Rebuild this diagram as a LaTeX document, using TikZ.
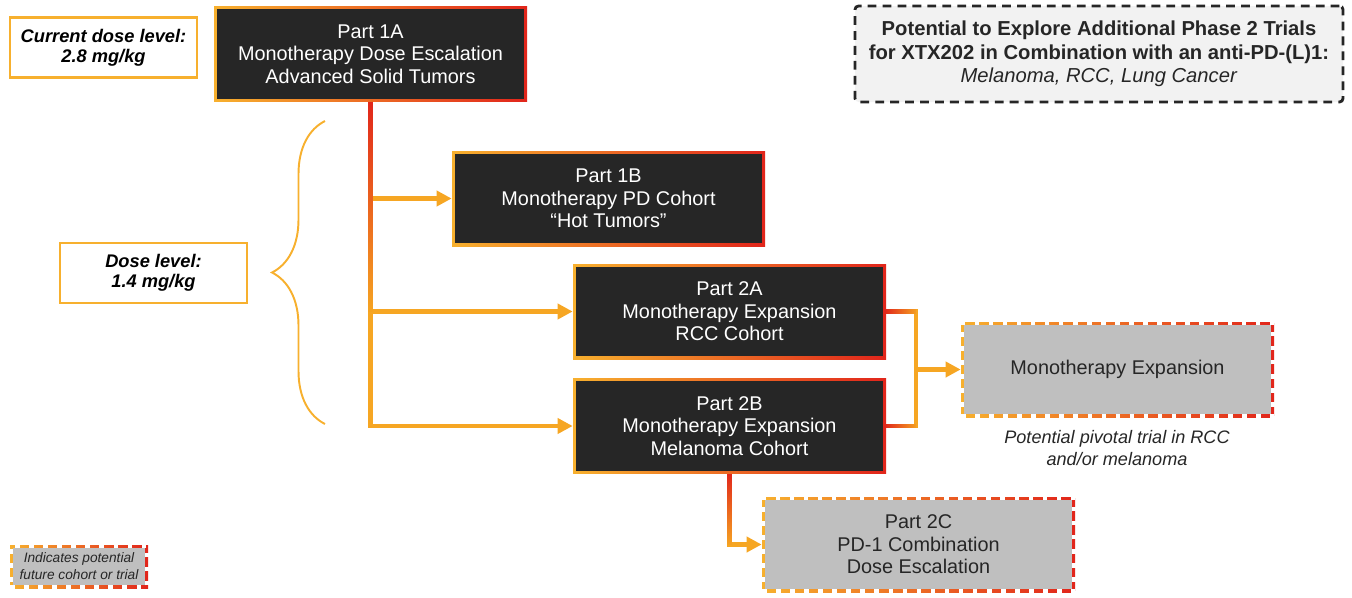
\documentclass[tikz,border=0pt]{standalone}
\usepackage{fontspec}
\setmainfont{Liberation Sans}
\usetikzlibrary{arrows.meta,fadings,decorations.pathreplacing}

\definecolor{boxdark}{HTML}{262626}
\definecolor{hotorange}{HTML}{F7B02E}
\definecolor{hotred}{HTML}{E1251B}
\definecolor{linkorange}{HTML}{F6A623}
\definecolor{futuregray}{HTML}{BFBFBF}
\definecolor{notegray}{HTML}{F2F2F2}

\tikzfading[name=redtop, top color=transparent!0, bottom color=transparent!100]
\tikzfading[name=redleft, left color=transparent!0, right color=transparent!100]

\newcommand{\boxfont}{\fontsize{11.3}{12.8}\selectfont}

\tikzset{
  rim/.style={draw=none, left color=hotorange, right color=hotred,
    path picture={\fill[#1] ([shift={(1.7pt,1.7pt)}]path picture bounding box.south west)
      rectangle ([shift={(-1.7pt,-1.7pt)}]path picture bounding box.north east);}},
  part/.style={rim=boxdark, text=white, align=center, font=\boxfont,
    minimum width=6.26cm, minimum height=1.9cm},
  future/.style={rim=futuregray, text=boxdark, align=center,
    postaction={draw=white, line width=3.4pt, dash pattern=on 2.6pt off 5.4pt}},
  dose/.style={draw=hotorange, line width=1.5pt, fill=white, align=center,
    font=\fontsize{10.4}{11.6}\selectfont\bfseries\itshape,
    minimum width=3.74cm, minimum height=1.2cm},
  link/.style={draw=linkorange, line width=2.3pt},
  tip/.style={-{Triangle[length=8.5pt,width=8.5pt]}},
  hot/.style={draw=hotred, line width=2.3pt, path fading=#1},
}

\begin{document}
\begin{tikzpicture}
  \useasboundingbox (0,0) rectangle (27.04,-11.94);

  % dose notes and the brace
  \node[dose] (cur) at (2.07,-0.95) {Current dose level:\\2.8 mg/kg};
  \node[dose] (lvl) at (3.07,-5.46) {Dose level:\\1.4 mg/kg};
  \draw[hotorange, line width=1.1pt, decorate,
    decoration={brace, amplitude=1.06cm, aspect=0.5}] (6.5,-8.48) -- (6.5,-2.42);

  % study parts
  \node[part] (p1a) at (7.41,-1.08) {Part 1A\\Monotherapy Dose Escalation\\Advanced Solid Tumors};
  \node[part] (p1b) at (12.17,-3.97) {Part 1B\\Monotherapy PD Cohort\\“Hot Tumors”};
  \node[part] (p2a) at (14.59,-6.23) {Part 2A\\Monotherapy Expansion\\RCC Cohort};
  \node[part] (p2b) at (14.59,-8.52) {Part 2B\\Monotherapy Expansion\\Melanoma Cohort};
  \node[part, future] (mono) at (22.35,-7.39) {Monotherapy Expansion};
  \node[part, future] (p2c) at (18.37,-10.89) {Part 2C\\PD-1 Combination\\Dose Escalation};
  \node[font=\fontsize{10.3}{12}\selectfont\itshape, align=center, text=boxdark] (pivotal)
    at (22.34,-8.96) {Potential pivotal trial in RCC\\and/or melanoma};

  % other trials and legend
  \node[draw=boxdark, line width=1.6pt, dash pattern=on 5pt off 3.5pt, fill=notegray,
    rounded corners=2pt, minimum width=9.76cm, minimum height=1.92cm, align=center,
    text=boxdark, font=\fontsize{11.5}{13.3}\selectfont] (explore) at (21.98,-1.08)
    {\textbf{Potential to Explore Additional Phase 2 Trials}\\
     \textbf{for XTX202 in Combination with an anti-PD-(L)1:}\\
     \textit{Melanoma, RCC, Lung Cancer}};
  \node[future, minimum width=2.76cm, minimum height=0.86cm,
    font=\fontsize{7.8}{9.6}\selectfont\itshape] (legend) at (1.58,-11.33)
    {Indicates potential\\future cohort or trial};

  % connectors
  \draw[link, tip] (p1a.south |- p1b.west) -- (p1b.west);
  \draw[link, tip] (p1a.south |- p2a.west) -- (p2a.west);
  \draw[link, tip] (p1a.south) |- (p2b.west);
  \draw[hot=redtop] (p1a.south) -- (p1a.south |- p2a.west);
  \coordinate (join) at (18.32,-7.39);
  \draw[link] (p2a.east) -| (join) |- (p2b.east);
  \draw[hot=redleft] (p2a.east) -- (p2a.east -| join);
  \draw[hot=redleft] (p2b.east) -- (p2b.east -| join);
  \draw[link, tip] (join) -- (mono.west);
  \draw[link, tip] (p2b.south) |- (p2c.west);
  \draw[hot=redtop] (p2b.south) -- (p2b.south |- p2c.west);
\end{tikzpicture}
\end{document}
